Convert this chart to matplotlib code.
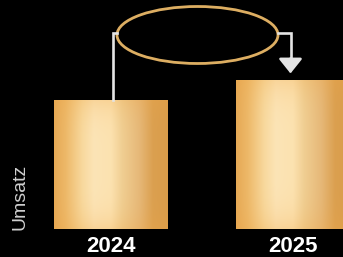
import numpy as np
import matplotlib
matplotlib.use("Agg")
import matplotlib.pyplot as plt
from matplotlib.patches import Ellipse
from matplotlib.colors import to_rgb

# data
years = ["2024", "2025"]
umsatz = [65, 75]

# gold gradient stops (left -> right across a bar)
grad_pos = [0.0, 0.1, 0.25, 0.35, 0.5, 0.6, 0.75, 0.87, 1.0]
grad_col = ["#E6A955", "#EDB868", "#F8D99E", "#FCE4B6", "#FCE2B0",
            "#F0CE92", "#E6B878", "#DBA050", "#D99C4A"]

bar_w = 0.623
fig = plt.figure(figsize=(3.43, 2.57), dpi=100, facecolor="black")
ax = fig.add_axes([0, 27.5 / 257, 1, 229.5 / 257])
ax.set_facecolor("black")
x = np.arange(len(years))
ax.set_xlim(-111 / 182, (343 - 111) / 182)
ax.set_ylim(0, 114.75)

# build gradient image
nx, ny = 200, 60
t = np.linspace(0, 1, nx)
rgb = np.array([to_rgb(c) for c in grad_col])
row = np.stack([np.interp(t, grad_pos, rgb[:, k]) for k in range(3)], axis=1)
img = np.repeat(row[None, :, :], ny, axis=0)
# slightly more orange towards top and bottom edges
v = np.linspace(-1, 1, ny)[:, None, None]
orange = np.array(to_rgb("#EFA645"))[None, None, :]
w = 0.25 * np.abs(v) ** 4
img = img * (1 - w) + orange * w

bars = ax.bar(x, umsatz, width=bar_w, color="none", edgecolor="none")
for b in bars:
    x0, y0 = b.get_x(), b.get_y()
    im = ax.imshow(img, extent=[x0, x0 + b.get_width(), y0, y0 + b.get_height()],
                   aspect="auto", origin="lower", zorder=2)
    im.set_clip_path(b)

# ellipse + connectors
ell_cx = (197.5 - 111) / 182
ell_w = 161 / 182
ell_cy = (229.5 - 35) / 2
ell_h = 57 / 2
ax.add_patch(Ellipse((ell_cx, ell_cy), ell_w, ell_h, fill=False,
                     edgecolor="#DDAE62", lw=2.0, zorder=3, clip_on=False))

line_col = "#E4E4E4"
conn_y = (229.5 - 33) / 2
lx = (113 - 111) / 182
ax.plot([lx, lx, ell_cx - ell_w / 2], [umsatz[0], conn_y, conn_y],
        color=line_col, lw=1.9, zorder=3, solid_joinstyle="miter")
rx = (290.5 - 111) / 182
ax.plot([ell_cx + ell_w / 2, rx, rx], [conn_y, conn_y, umsatz[1] + 10],
        color=line_col, lw=1.9, zorder=3, solid_joinstyle="miter")
ax.annotate("", xy=(rx, umsatz[1] + 3), xytext=(rx, umsatz[1] + 10.5),
            arrowprops=dict(arrowstyle="-|>,head_length=0.9,head_width=0.72",
                            color=line_col, lw=1.9, shrinkA=0, shrinkB=0))

ax.set_xticks(x)
ax.set_xticklabels(years, fontsize=16, fontweight="bold", color="white",
                   family=["Liberation Sans", "DejaVu Sans"])
ax.tick_params(axis="x", length=0, pad=4.5)
ax.set_yticks([])
for s in ax.spines.values():
    s.set_visible(False)

ax.set_ylabel("Umsatz", fontsize=14, color="#CFCFCF", va="center",
              family=["Liberation Sans", "DejaVu Sans"])
ax.yaxis.set_label_coords(20 / 343, (229.5 - 197) / 229.5)

fig.savefig("out.png", dpi=100, facecolor="black")
